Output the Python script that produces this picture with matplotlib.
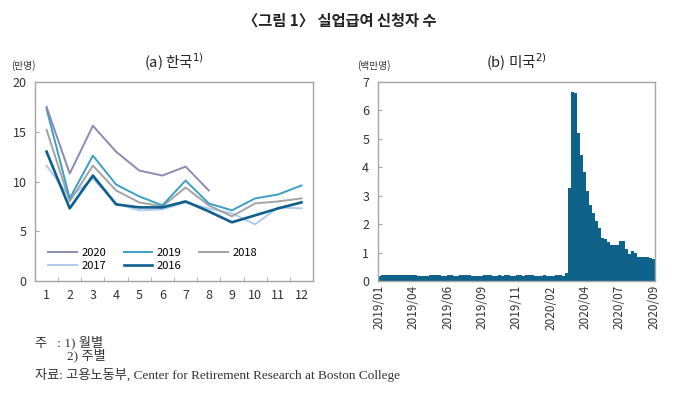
import numpy as np
import matplotlib
matplotlib.use('Agg')
import matplotlib.pyplot as plt

plt.rcParams['font.family'] = ['Noto Sans CJK KR', 'DejaVu Sans']
plt.rcParams['axes.unicode_minus'] = False

# korea, monthly (10k persons)
months = [1, 2, 3, 4, 5, 6, 7, 8, 9, 10, 11, 12]
kr_2020 = [17.5, 10.8, 15.6, 13.0, 11.1, 10.6, 11.5, 9.1]
kr_2019 = [17.3, 8.3, 12.6, 9.7, 8.5, 7.6, 10.1, 7.8, 7.1, 8.3, 8.7, 9.6]
kr_2018 = [15.2, 8.0, 11.6, 9.1, 7.9, 7.5, 9.4, 7.6, 6.5, 7.8, 8.0, 8.3]
kr_2017 = [11.6, 8.4, 10.3, 7.8, 7.1, 7.2, 7.9, 7.3, 6.8, 5.7, 7.4, 7.3]
kr_2016 = [13.0, 7.3, 10.6, 7.7, 7.4, 7.4, 8.0, 7.0, 5.9, 6.6, 7.3, 7.9]

# us, weekly (million persons)
us_before = [0.17, 0.22, 0.21, 0.2, 0.2, 0.2, 0.2, 0.2, 0.2, 0.2,
             0.21, 0.2, 0.2, 0.19, 0.19, 0.18, 0.18, 0.2, 0.21, 0.2,
             0.2, 0.19, 0.19, 0.2, 0.2, 0.19, 0.19, 0.2, 0.2, 0.2,
             0.2, 0.18, 0.18, 0.19, 0.19, 0.2, 0.2, 0.2, 0.19, 0.19,
             0.2, 0.19, 0.2, 0.2, 0.19, 0.19, 0.2, 0.2, 0.19, 0.22,
             0.2, 0.2, 0.19, 0.18, 0.19, 0.2, 0.17, 0.18, 0.19, 0.2,
             0.2, 0.19, 0.28]
us_after = [3.28, 6.65, 6.62, 5.22, 4.42, 3.83, 3.15, 2.66, 2.40, 2.10,
            1.86, 1.52, 1.49, 1.37, 1.28, 1.28, 1.28, 1.41, 1.42, 1.14,
            0.94, 1.06, 0.98, 0.84, 0.85, 0.83, 0.83, 0.82, 0.79]
us_labels = ['2019/01', '2019/04', '2019/06', '2019/09', '2019/11',
             '2020/02', '2020/04', '2020/07', '2020/09']

note_font = ['Liberation Serif', 'Noto Sans CJK KR']


def style_axes(ax):
    for sp in ax.spines.values():
        sp.set_color('#a6a6a6')
        sp.set_linewidth(1.0)
    ax.tick_params(axis='y', direction='in', length=3, color='#a6a6a6',
                   labelsize=9, labelcolor='#333333', pad=6)


def main():
    fig = plt.figure(figsize=(6.79, 4.03), dpi=100)

    fig.text(0.5, 0.948, '〈그림 1〉 실업급여 신청자 수', ha='center', va='center',
             fontsize=11, fontweight='bold', color='#222222')

    # (a) korea
    ax1 = fig.add_axes([0.0515, 0.3027, 0.4095, 0.4938])
    series = [('2020', kr_2020, '#8c89b3', 1.4),
              ('2017', kr_2017, '#aec9ec', 1.4),
              ('2019', kr_2019, '#3b9fc5', 1.4),
              ('2016', kr_2016, '#0e5f8c', 1.9),
              ('2018', kr_2018, '#a3a3a3', 1.4)]
    draw_order = ['2017', '2018', '2019', '2016', '2020']
    handles = {}
    for name in draw_order:
        for lab, vals, col, lw in series:
            if lab == name:
                ln, = ax1.plot(months[:len(vals)], vals, color=col, lw=lw, label=lab)
                handles[lab] = ln
    ax1.set_xlim(0.5, 12.5)
    ax1.set_ylim(0, 20)
    ax1.set_yticks([0, 5, 10, 15, 20])
    ax1.set_xticks(months)
    ax1.set_xticks(np.arange(1.5, 12.5, 1), minor=True)
    ax1.tick_params(axis='x', which='major', length=0, labelsize=9,
                    labelcolor='#333333', pad=6)
    ax1.tick_params(axis='x', which='minor', direction='in', length=3,
                    color='#a6a6a6')
    style_axes(ax1)
    order = [s[0] for s in series]
    ax1.legend([handles[k] for k in order], order, loc='lower left',
               bbox_to_anchor=(0.01, 0.0), ncol=3, frameon=False, fontsize=8,
               handlelength=2.6, columnspacing=1.6, labelspacing=0.3,
               handletextpad=0.4)
    ax1.set_title('(a) 한국$^{1)}$', fontsize=10.5, color='#222222', pad=10)
    fig.text(0.034, 0.838, '(만명)', ha='center', va='center', fontsize=7,
             color='#333333')

    # (b) us
    ax2 = fig.add_axes([0.556, 0.3027, 0.4087, 0.4938])
    us_vals = us_before + us_after
    x = np.arange(len(us_vals))
    ax2.bar(x, us_vals, width=1.0, color='#0f6289', linewidth=0)
    ax2.set_xlim(-0.5, len(us_vals) - 0.5)
    ax2.set_ylim(0, 7)
    ax2.set_yticks(range(0, 8))
    ax2.set_xticks(np.linspace(0, len(us_vals) - 1, len(us_labels)))
    ax2.set_xticklabels(us_labels, rotation=90)
    ax2.tick_params(axis='x', length=0, labelsize=8.5, labelcolor='#333333', pad=3)
    style_axes(ax2)
    ax2.set_title('(b) 미국$^{2)}$', fontsize=10.5, color='#222222', pad=10)
    fig.text(0.55, 0.838, '(백만명)', ha='center', va='center', fontsize=7,
             color='#333333')

    # notes
    fig.text(0.052, 0.151, '주   : 1) 월별', ha='left', va='center', fontsize=9.5,
             color='#333333', family=note_font)
    fig.text(0.099, 0.117, '2) 주별', ha='left', va='center', fontsize=9.5,
             color='#333333', family=note_font)
    fig.text(0.052, 0.069, '자료: 고용노동부, Center for Retirement Research at Boston College',
             ha='left', va='center', fontsize=9.5, color='#333333', family=note_font)

    fig.savefig('out.png', dpi=100)


if __name__ == '__main__':
    main()
